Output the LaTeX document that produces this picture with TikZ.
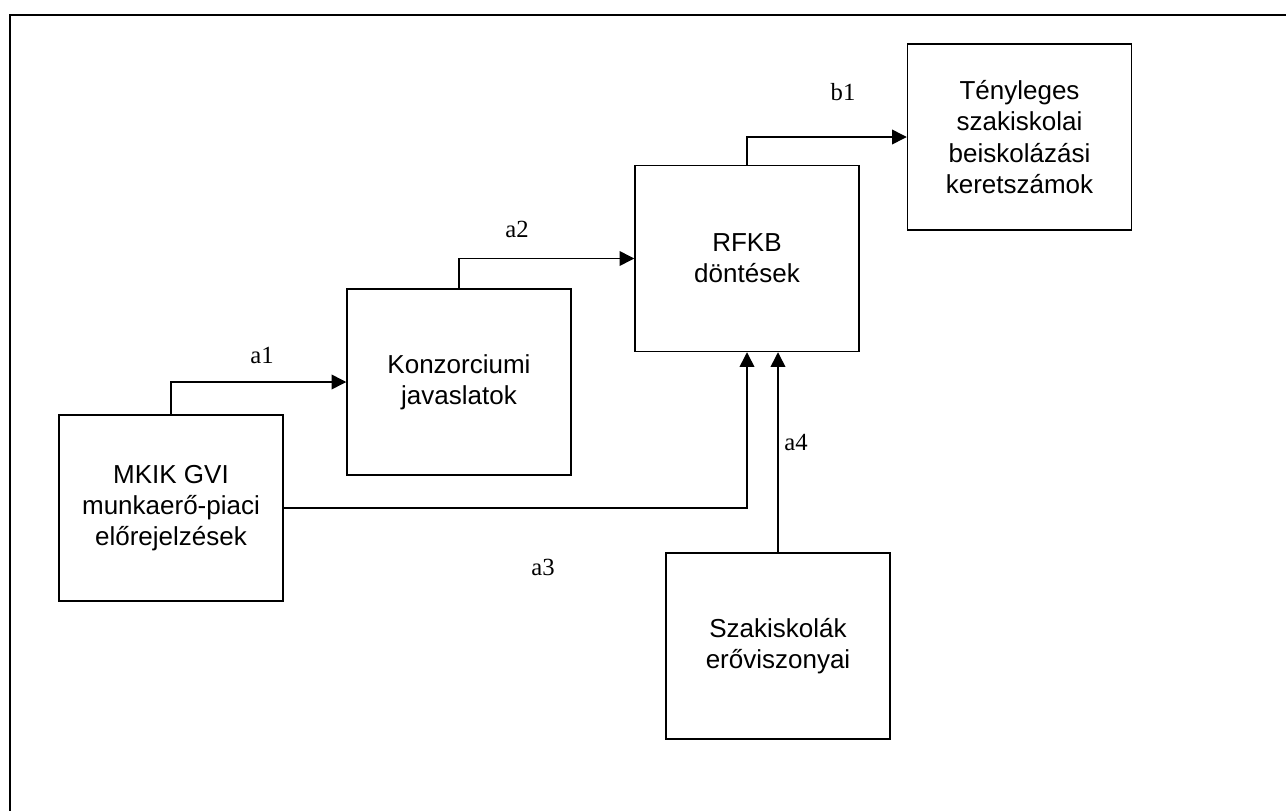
\documentclass[tikz,border=0pt]{standalone}
\usepackage{fontspec}
\setmainfont{Liberation Serif}
\newfontfamily\boxfont{Liberation Sans}
\usetikzlibrary{arrows.meta}

\begin{document}
\begin{tikzpicture}[x=0.75pt, y=-0.75pt,
    blokk/.style={draw, line width=1.1pt, minimum width=168pt, minimum height=139.5pt,
        inner sep=0pt, align=center, font=\boxfont\fontsize{19.5}{23.5}\selectfont},
    nyil/.style={line width=1.1pt, -{Triangle[length=11pt, width=11pt]}},
    cimke/.style={font=\fontsize{18.5}{21}\selectfont}]
    \useasboundingbox (0,0) rectangle (1286,811);

    % Frame
    \draw[line width=2pt] (1286,15) -- (10,15) -- (10,811);

    % Boxes
    \node[blokk] (mkik) at (171,508) {MKIK GVI\\munkaerő-piaci\\előrejelzések};
    \node[blokk] (konz) at (459,382) {Konzorciumi\\javaslatok};
    \node[blokk] (rfkb) at (747,258.5) {RFKB\\döntések};
    \node[blokk] (teny) at (1019.5,137) {Tényleges\\szakiskolai\\beiskolázási\\keretszámok};
    \node[blokk] (szak) at (778,646) {Szakiskolák\\erőviszonyai};

    % Arrows
    \draw[nyil] (mkik.north) |- (konz.west);
    \draw[nyil] (konz.north) |- (rfkb.west);
    \draw[nyil] (rfkb.north) |- (teny.west);
    \draw[nyil] (mkik.east) -| (rfkb.south);
    \draw[nyil] (szak.north) -- (szak.north |- rfkb.south);

    % Labels
    \node[cimke] (la1) at (262,355) {a1};
    \node[cimke] (la2) at (517,229) {a2};
    \node[cimke] (la3) at (543,567) {a3};
    \node[cimke] (la4) at (796,442) {a4};
    \node[cimke] (lb1) at (843,92) {b1};
\end{tikzpicture}
\end{document}
